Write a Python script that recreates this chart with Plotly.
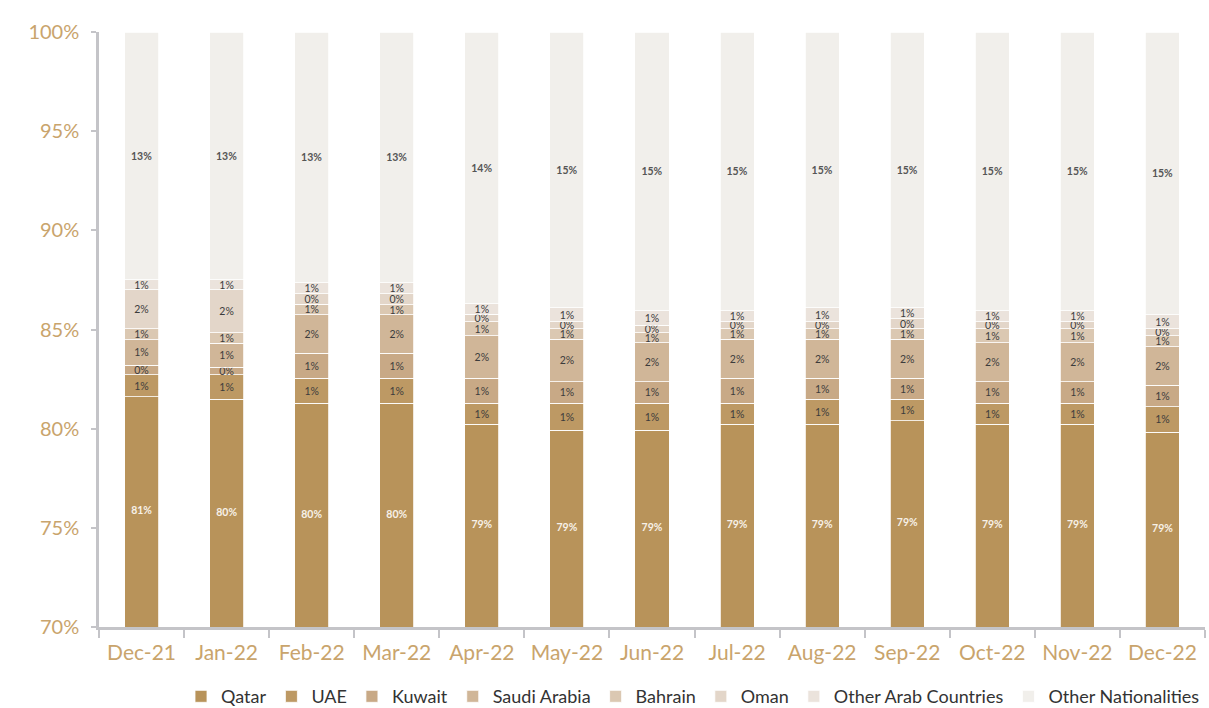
import plotly.graph_objects as go

months = ["Dec-21", "Jan-22", "Feb-22", "Mar-22", "Apr-22", "May-22", "Jun-22",
          "Jul-22", "Aug-22", "Sep-22", "Oct-22", "Nov-22", "Dec-22"]

# segment sizes (% of total)
qatar      = [81.61, 81.48, 81.28, 81.28, 80.22, 79.93, 79.93, 80.22, 80.22, 80.41, 80.22, 80.22, 79.83]
uae        = [1.11, 1.24, 1.26, 1.26, 1.06, 1.35, 1.35, 1.06, 1.26, 1.07, 1.06, 1.06, 1.28]
kuwait     = [0.49, 0.37, 1.26, 1.26, 1.26, 1.09, 1.09, 1.26, 1.06, 1.06, 1.09, 1.09, 1.09]
saudi      = [1.28, 1.22, 1.95, 1.95, 2.15, 2.14, 1.97, 1.97, 1.97, 1.97, 1.97, 1.97, 1.94]
bahrain    = [0.54, 0.52, 0.52, 0.50, 0.71, 0.52, 0.50, 0.53, 0.53, 0.53, 0.70, 0.70, 0.55]
oman       = [1.98, 2.17, 0.54, 0.56, 0.37, 0.37, 0.37, 0.36, 0.36, 0.51, 0.36, 0.36, 0.35]
other_arab = [0.50, 0.50, 0.54, 0.54, 0.52, 0.70, 0.73, 0.54, 0.70, 0.55, 0.54, 0.54, 0.71]
other_nat  = [12.49, 12.50, 12.65, 12.65, 13.71, 13.90, 14.06, 14.06, 13.90, 13.90, 14.06, 14.06, 14.25]

# data labels as printed on the chart
qatar_lbl      = ["81%", "80%", "80%", "80%", "79%", "79%", "79%", "79%", "79%", "79%", "79%", "79%", "79%"]
uae_lbl        = ["1%"] * 13
kuwait_lbl     = ["0%", "0%", "1%", "1%", "1%", "1%", "1%", "1%", "1%", "1%", "1%", "1%", "1%"]
saudi_lbl      = ["1%", "1%", "2%", "2%", "2%", "2%", "2%", "2%", "2%", "2%", "2%", "2%", "2%"]
bahrain_lbl    = ["1%"] * 13
oman_lbl       = ["2%", "2%", "0%", "0%", "0%", "0%", "0%", "0%", "0%", "0%", "0%", "0%", "0%"]
other_arab_lbl = ["1%"] * 13
other_nat_lbl  = ["13%", "13%", "13%", "13%", "14%", "15%", "15%", "15%", "15%", "15%", "15%", "15%", "15%"]

Y_MIN, Y_MAX = 70, 100

series = [
    ("Qatar", qatar, None, "#b8935a"),
    ("UAE", uae, uae_lbl, "#bd9964"),
    ("Kuwait", kuwait, kuwait_lbl, "#c8a986"),
    ("Saudi Arabia", saudi, saudi_lbl, "#d0b698"),
    ("Bahrain", bahrain, bahrain_lbl, "#dbc8b2"),
    ("Oman", oman, oman_lbl, "#e3d6c9"),
    ("Other Arab Countries", other_arab, other_arab_lbl, "#ebe3dc"),
    ("Other Nationalities", other_nat, other_nat_lbl, "#f1efeb"),
]

FONT = "Lato"
GOLD = "#c9a46c"
AXIS = "#c4c4c8"

fig = go.Figure()
for name, vals, lbls, color in series:
    bold = name == "Other Nationalities"
    fig.add_trace(go.Bar(
        x=months, y=vals, name=name, text=lbls,
        textposition="inside" if lbls else "none",
        insidetextanchor="middle", textangle=0, constraintext="none",
        textfont=dict(family=FONT, size=10.5, color="#555555" if bold else "#3c3c3c",
                      weight="bold" if bold else "normal"),
        marker=dict(color=color, line=dict(color="white", width=0.8)),
        hoverinfo="skip",
    ))

# Qatar labels sit in the middle of the visible part of the Qatar bar
fig.add_trace(go.Scatter(
    x=months, y=[(Y_MIN + q) / 2 for q in qatar], mode="text", text=qatar_lbl,
    textfont=dict(family=FONT, size=10.5, color="#f7f1e8", weight="bold"),
    showlegend=False, hoverinfo="skip",
))

fig.update_layout(
    barmode="stack",
    bargap=0.6,
    width=1209, height=708,
    margin=dict(l=99, r=4, t=32, b=81, autoexpand=False),
    paper_bgcolor="white", plot_bgcolor="white",
    font=dict(family=FONT, color="#333333"),
    legend=dict(
        orientation="h", x=1, xanchor="right", y=-0.117, yanchor="middle",
        font=dict(family=FONT, size=18, color="#333333"),
        traceorder="normal", itemwidth=30,
    ),
    showlegend=True,
)
fig.update_xaxes(
    type="category", range=[-0.5, len(months) - 0.5],
    tickson="boundaries", ticks="outside", ticklen=8,
    tickcolor=AXIS, tickwidth=2, showline=True, linecolor=AXIS, linewidth=2.5,
    tickfont=dict(family=FONT, size=21, color=GOLD), showgrid=False,
    ticklabelstandoff=5,
)
yt = [70, 75, 80, 85, 90, 95, 100]
fig.update_yaxes(
    range=[Y_MIN, Y_MAX], tickvals=yt, ticktext=[f"{v}%" for v in yt],
    ticks="outside", ticklen=5, tickcolor=AXIS, tickwidth=2,
    showline=True, linecolor=AXIS, linewidth=2.5, showgrid=False, zeroline=False,
    tickfont=dict(family=FONT, size=20, color=GOLD), ticklabelstandoff=8,
)

fig.write_html("out.html", config={"displayModeBar": False},
               post_script="document.body.style.margin='0px';")
